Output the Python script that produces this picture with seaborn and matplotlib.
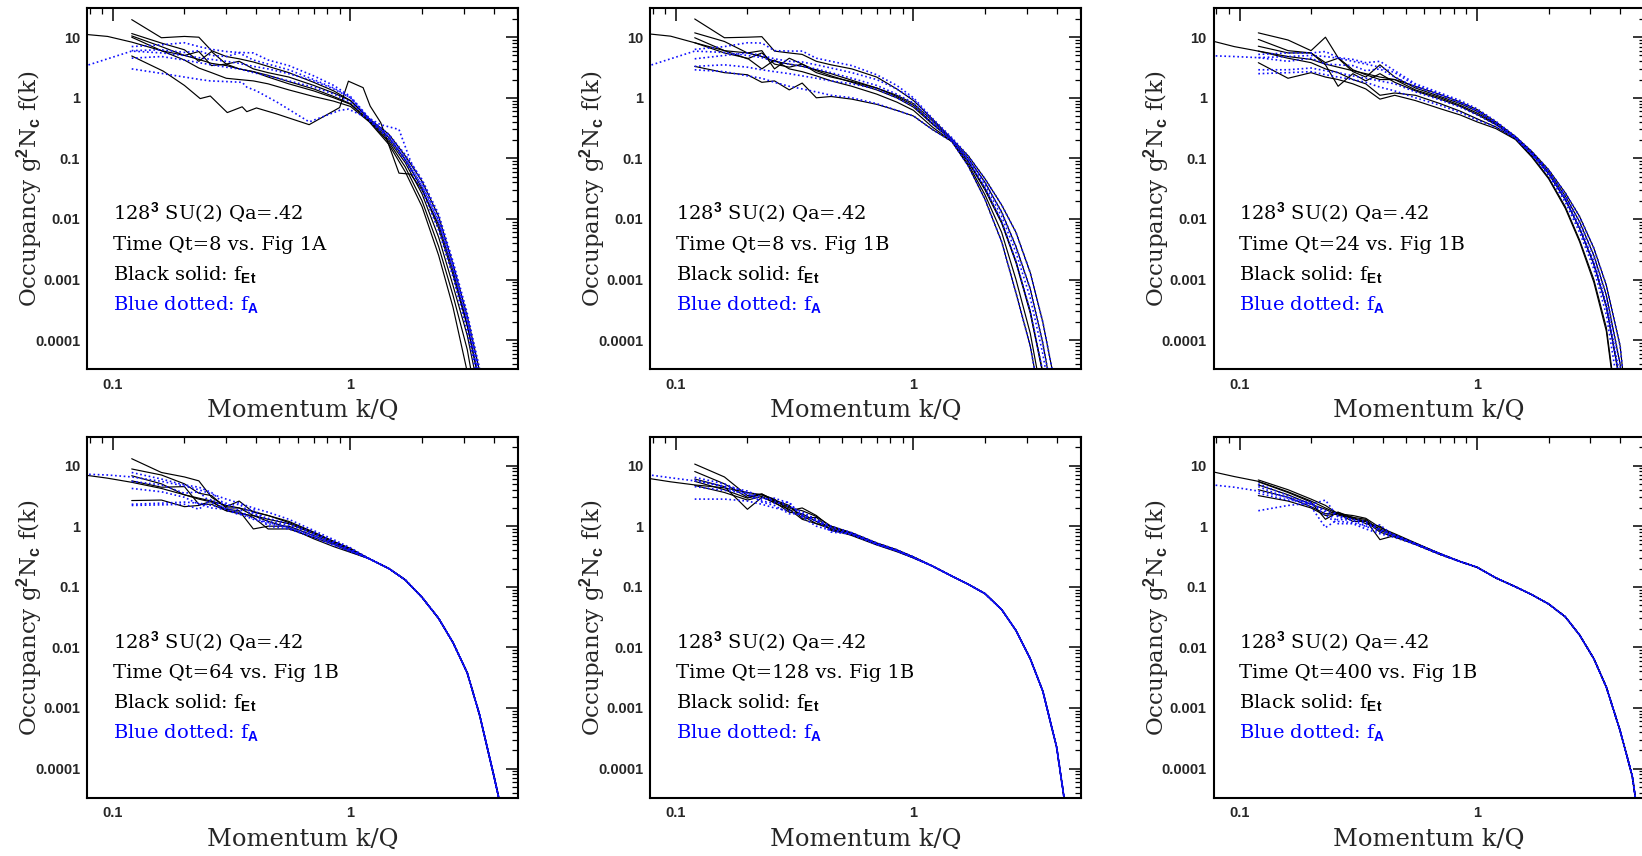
import numpy as np
import pandas as pd
import matplotlib
matplotlib.use("Agg")
import matplotlib.pyplot as plt
import seaborn as sns
from matplotlib.ticker import NullFormatter

N = None

# ---------------- momentum grids ----------------
K_HEAD = [0.07, 0.095, 0.12, 0.16, 0.2, 0.23, 0.26, 0.3, 0.34, 0.39, 0.45, 0.55, 0.7, 0.85, 1.0]
K_TAIL = [1.2, 1.45, 1.7, 2.0, 2.35, 2.7, 3.1, 3.5, 4.0, 4.5, 5.0]

# ---------------- Panel 1 : Qt=8 vs Fig 1A ----------------
P1_BLACK_HEAD = [
    [11.5, 10.3, 8.3, 6.0, 5.0, 4.3, 3.7, 3.4, 3.0, 2.7, 2.35, 1.85, 1.4, 1.05, 0.8],
    [N, N, 19.5, 9.8, 10.3, 10.0, 6.0, 4.8, 4.4, 3.9, 3.3, 2.6, 1.8, 1.3, 0.9],
    [N, N, 11.5, 8.0, 6.2, 4.0, 5.8, 3.6, 4.0, 3.0, 2.6, 2.2, 1.6, 1.2, 0.9],
    [N, N, 10.5, 7.0, 5.0, 5.8, 3.4, 3.6, 3.0, 2.7, 2.2, 1.7, 1.3, 1.0, 0.78],
    [N, N, 10.0, 6.0, 4.2, 3.1, 2.6, 2.1, 2.0, 1.9, 1.7, 1.35, 1.05, 0.88, 0.72],
]
P1_BLACK_TAIL = [
    [0.42, 0.2, 0.085, 0.026, 0.005, 8e-4, 1.2e-4, 1.2e-5, 4e-7, N, N],
    [0.45, 0.25, 0.11, 0.042, 0.011, 0.0018, 2.5e-4, 3e-5, 1e-6, N, N],
    [0.44, 0.22, 0.095, 0.032, 0.007, 0.0012, 1.7e-4, 2e-5, 7e-7, N, N],
    [0.41, 0.185, 0.072, 0.02, 0.0035, 5.5e-4, 7e-5, 5e-6, 1e-7, N, N],
    [0.4, 0.17, 0.06, 0.016, 0.0025, 3.5e-4, 3e-5, 1.5e-6, N, N, N],
]
P1_BLUE_HEAD = [
    [3.0, 4.4, 5.9, 5.5, 5.0, 4.6, 4.3, 4.0, 3.7, 3.3, 3.0, 2.5, 1.9, 1.4, 1.0],
    [N, N, 7.0, 7.5, 8.1, 7.0, 6.3, 5.8, 5.6, 5.5, 4.2, 3.4, 2.3, 1.6, 1.05],
    [N, N, 6.0, 6.2, 5.6, 6.0, 5.0, 4.8, 5.5, 4.2, 3.6, 2.9, 2.0, 1.45, 1.0],
    [N, N, 4.5, 4.8, 4.2, 3.8, 3.5, 3.2, 3.0, 2.6, 2.3, 1.9, 1.5, 1.15, 0.85],
]
P1_BLUE_TAIL = [
    [0.45, 0.23, 0.1, 0.035, 0.009, 0.0016, 2.2e-4, 2.5e-5, 8e-7, N, N],
    [0.46, 0.25, 0.115, 0.045, 0.012, 0.002, 2.8e-4, 3.3e-5, 1.2e-6, N, N],
    [0.44, 0.23, 0.1, 0.036, 0.009, 0.0015, 2e-4, 2e-5, 6e-7, N, N],
    [0.42, 0.21, 0.09, 0.03, 0.0065, 0.0011, 1.4e-4, 1.5e-5, 5e-7, N, N],
]
# the curve with the bump near k/Q ~ 1 (own momentum grid)
K_BUMP = [0.12, 0.163, 0.2, 0.233, 0.257, 0.303, 0.35, 0.366, 0.402, 0.49, 0.67, 0.9,
          0.98, 1.13, 1.21, 1.34, 1.6, 1.79, 2.0, 2.35, 2.7, 3.1, 3.5, 4.0]
P1_BLACK_BUMP = [4.9, 2.75, 1.6, 0.97, 1.07, 0.57, 0.71, 0.59, 0.68, 0.54, 0.36, 0.69,
                 1.88, 1.47, 0.73, 0.39, 0.057, 0.055, 0.03, 0.008, 0.0014, 1.8e-4, 1.8e-5, 5e-7]
P1_BLUE_BUMP = [3.0, 2.5, 2.2, 2.0, 1.9, 1.85, 1.8, 1.5, 1.3, 0.85, 0.4, 0.62,
                0.65, 0.5, 0.45, 0.36, 0.3, 0.09, 0.04, 0.01, 0.0018, 2.3e-4, 2.5e-5, 8e-7]

# ---------------- Panel 2 : Qt=8 vs Fig 1B ----------------
P2_BLACK_HEAD = [
    [11.8, 10.4, 8.1, 6.0, 5.5, 4.8, 4.0, 3.6, 3.3, 2.9, 2.5, 1.95, 1.45, 1.05, 0.75],
    [N, N, 20.0, 9.8, 10.0, 10.2, 5.9, 5.5, 5.2, 4.0, 3.5, 3.0, 2.2, 1.4, 0.9],
    [N, N, 11.8, 8.5, 5.5, 6.0, 3.0, 4.5, 3.6, 2.6, 2.2, 1.85, 1.45, 1.1, 0.8],
    [N, N, 9.8, 6.0, 4.4, 5.5, 3.6, 3.2, 3.6, 2.8, 2.3, 1.8, 1.35, 1.0, 0.7],
    [N, N, 8.1, 5.5, 4.5, 3.0, 4.2, 3.0, 2.7, 2.3, 1.9, 1.55, 1.15, 0.85, 0.62],
    [N, N, 3.3, 2.6, 2.4, 1.8, 1.9, 1.35, 1.75, 1.0, 1.05, 0.95, 0.78, 0.62, 0.5],
]
P2_BLACK_TAIL = [
    [0.38, 0.2, 0.09, 0.032, 0.009, 0.002, 3e-4, 3e-5, 1.2e-6, N, N],
    [0.45, 0.21, 0.11, 0.046, 0.017, 0.006, 0.0013, 2e-4, 1.4e-5, 5e-7, N],
    [0.42, 0.2, 0.1, 0.04, 0.013, 0.0035, 7e-4, 9e-5, 5e-6, N, N],
    [0.37, 0.2, 0.088, 0.03, 0.0085, 0.0019, 2.8e-4, 2.8e-5, 1e-6, N, N],
    [0.33, 0.19, 0.075, 0.021, 0.0042, 6e-4, 8e-5, 6e-6, N, N, N],
    [0.3, 0.19, 0.08, 0.025, 0.006, 0.001, 1.3e-4, 1e-5, 3e-7, N, N],
]
P2_BLUE_HEAD = [
    [3.0, 4.4, 5.9, 5.6, 5.0, 4.6, 4.0, 3.6, 3.3, 3.0, 2.6, 2.1, 1.6, 1.15, 0.82],
    [N, N, 6.3, 7.0, 8.1, 8.0, 6.0, 5.9, 5.9, 4.5, 4.0, 3.4, 2.4, 1.6, 1.0],
    [N, N, 4.4, 5.0, 5.5, 5.0, 4.4, 4.0, 3.9, 3.5, 3.1, 2.6, 2.0, 1.4, 0.95],
    [N, N, 3.3, 3.5, 3.2, 2.9, 2.7, 2.5, 2.3, 2.1, 1.9, 1.7, 1.4, 1.0, 0.72],
    [N, N, 2.9, 2.7, 2.3, 2.1, 1.8, 1.55, 1.4, 1.25, 1.1, 1.0, 0.8, 0.62, 0.5],
]
P2_BLUE_TAIL = [
    [0.4, 0.2, 0.095, 0.036, 0.011, 0.0028, 5e-4, 6e-5, 3e-6, N, N],
    [0.46, 0.22, 0.11, 0.046, 0.017, 0.006, 0.0013, 2e-4, 1.4e-5, 5e-7, N],
    [0.43, 0.21, 0.1, 0.04, 0.013, 0.0035, 7e-4, 9e-5, 5e-6, N, N],
    [0.37, 0.2, 0.09, 0.032, 0.009, 0.002, 3e-4, 3e-5, 1.2e-6, N, N],
    [0.3, 0.19, 0.075, 0.021, 0.0042, 6e-4, 8e-5, 6e-6, N, N, N],
]

# ---------------- Panel 3 : Qt=24 vs Fig 1B ----------------
P3_BLACK_HEAD = [
    [9.5, 7.0, 5.9, 4.8, 4.3, 3.6, 3.2, 2.8, 2.5, 2.2, 2.0, 1.35, 1.0, 0.75, 0.56],
    [N, N, 11.8, 9.0, 6.0, 10.0, 4.6, 2.9, 2.4, 2.0, 2.0, 1.55, 1.13, 0.85, 0.64],
    [N, N, 9.2, 6.0, 5.5, 3.8, 4.5, 2.7, 2.2, 3.5, 2.2, 1.45, 1.05, 0.8, 0.6],
    [N, N, 7.1, 5.5, 5.5, 3.5, 1.55, 2.5, 1.9, 2.5, 1.8, 1.3, 0.95, 0.72, 0.53],
    [N, N, 5.9, 4.5, 3.8, 3.0, 2.6, 2.0, 1.7, 1.1, 1.2, 1.1, 0.8, 0.6, 0.45],
    [N, N, 3.8, 2.1, 2.6, 2.2, 2.0, 1.7, 1.4, 0.95, 1.1, 0.9, 0.66, 0.52, 0.4],
]
P3_BLACK_TAIL = [
    [0.37, 0.22, 0.12, 0.056, 0.021, 0.007, 0.0018, 3.6e-4, 2e-5, 1e-7, N],
    [0.4, 0.23, 0.13, 0.065, 0.027, 0.011, 0.0033, 8e-4, 8e-5, 1e-6, N],
    [0.38, 0.225, 0.125, 0.06, 0.024, 0.009, 0.0025, 5.5e-4, 4e-5, 3e-7, N],
    [0.36, 0.22, 0.12, 0.056, 0.021, 0.007, 0.0018, 3.6e-4, 2e-5, 1e-7, N],
    [0.33, 0.21, 0.11, 0.048, 0.016, 0.0045, 0.001, 1.6e-4, 3e-6, N, N],
    [0.31, 0.205, 0.105, 0.046, 0.015, 0.0042, 9e-4, 1.4e-4, 2.5e-6, N, N],
]
P3_BLUE_HEAD = [
    [5.0, 4.8, 4.6, 4.8, 5.0, 4.8, 4.5, 4.0, 3.6, 3.2, 2.6, 1.6, 1.15, 0.85, 0.62],
    [N, N, 5.2, 5.5, 5.5, 5.8, 4.6, 4.3, 3.8, 4.0, 2.8, 1.7, 1.2, 0.9, 0.66],
    [N, N, 4.6, 4.0, 4.5, 3.6, 3.5, 3.4, 2.8, 3.0, 2.2, 1.5, 1.1, 0.82, 0.6],
    [N, N, 2.9, 2.9, 3.1, 2.8, 2.6, 2.3, 2.1, 1.9, 1.7, 1.25, 0.92, 0.7, 0.52],
    [N, N, 2.5, 2.6, 2.7, 2.4, 2.2, 2.0, 1.8, 1.5, 1.3, 1.0, 0.75, 0.57, 0.43],
]
P3_BLUE_TAIL = [
    [0.39, 0.225, 0.125, 0.06, 0.024, 0.009, 0.0025, 5.5e-4, 4e-5, 3e-7, N],
    [0.41, 0.23, 0.13, 0.065, 0.027, 0.011, 0.0033, 8e-4, 8e-5, 1e-6, N],
    [0.38, 0.22, 0.12, 0.056, 0.021, 0.007, 0.0018, 3.6e-4, 2e-5, 1e-7, N],
    [0.36, 0.22, 0.12, 0.058, 0.022, 0.0075, 0.002, 4e-4, 2.5e-5, 1.5e-7, N],
    [0.33, 0.215, 0.115, 0.052, 0.019, 0.006, 0.0015, 2.6e-4, 1e-5, N, N],
]

# ---------------- Panel 4 : Qt=64 vs Fig 1B ----------------
P4_BLACK_HEAD = [
    [7.3, 6.2, 5.3, 4.2, 3.3, 2.9, 2.6, 2.2, 2.0, 1.75, 1.5, 1.15, 0.78, 0.56, 0.42],
    [N, N, 13.0, 7.7, 6.5, 5.6, 3.0, 2.1, 2.6, 1.7, 1.5, 1.2, 0.8, 0.56, 0.43],
    [N, N, 8.8, 7.0, 5.0, 3.5, 3.2, 2.0, 2.0, 1.5, 1.3, 1.1, 0.75, 0.54, 0.41],
    [N, N, 6.8, 5.0, 3.3, 2.8, 2.5, 1.9, 1.8, 0.9, 1.0, 1.0, 0.7, 0.52, 0.4],
    [N, N, 5.6, 4.4, 4.5, 2.3, 2.3, 1.8, 1.7, 1.4, 0.9, 0.9, 0.65, 0.5, 0.38],
    [N, N, 2.65, 2.7, 2.1, 2.2, 2.6, 1.8, 1.6, 1.5, 1.2, 0.95, 0.62, 0.46, 0.37],
]
P4_BLUE_HEAD = [
    [7.3, 7.0, 6.5, 5.5, 4.6, 4.0, 3.4, 2.8, 2.4, 2.0, 1.7, 1.3, 0.85, 0.6, 0.44],
    [N, N, 7.7, 6.0, 4.8, 4.4, 3.6, 2.2, 2.3, 1.6, 1.35, 1.1, 0.78, 0.56, 0.42],
    [N, N, 5.5, 4.8, 3.5, 3.7, 2.4, 2.4, 1.8, 1.9, 1.2, 1.05, 0.74, 0.54, 0.41],
    [N, N, 4.2, 3.7, 3.0, 2.3, 2.0, 1.9, 1.6, 1.3, 1.1, 0.95, 0.7, 0.52, 0.4],
    [N, N, 2.3, 2.4, 2.5, 2.4, 2.2, 2.0, 1.7, 1.35, 1.15, 0.95, 0.68, 0.5, 0.39],
    [N, N, 2.2, 2.25, 2.3, 1.9, 2.8, 1.85, 1.55, 1.7, 1.0, 0.9, 0.65, 0.48, 0.38],
]
P4_TAIL = [0.29, 0.2, 0.13, 0.067, 0.03, 0.012, 0.0038, 7.5e-4, 8e-5, 1e-5, N]

# ---------------- Panel 5 : Qt=128 vs Fig 1B ----------------
P5_BLACK_HEAD = [
    [6.5, 5.4, 4.8, 4.3, 3.6, 3.3, 2.6, 2.0, 1.8, 1.45, 1.0, 0.76, 0.52, 0.4, 0.31],
    [N, N, 10.6, 6.5, 3.2, 3.4, 2.6, 2.1, 1.5, 1.1, 1.0, 0.78, 0.53, 0.41, 0.31],
    [N, N, 8.0, 5.0, 3.0, 3.3, 2.8, 1.8, 2.0, 1.5, 0.95, 0.76, 0.52, 0.4, 0.31],
    [N, N, 6.0, 4.5, 1.9, 3.0, 2.5, 1.7, 1.6, 1.2, 0.9, 0.74, 0.51, 0.39, 0.3],
    [N, N, 5.5, 4.0, 2.9, 3.4, 2.7, 2.2, 1.35, 1.4, 0.85, 0.72, 0.5, 0.39, 0.3],
    [N, N, 4.7, 3.6, 2.7, 3.1, 2.4, 1.9, 1.3, 1.1, 0.9, 0.7, 0.49, 0.38, 0.3],
]
P5_BLUE_HEAD = [
    [7.4, 6.3, 5.6, 4.6, 3.8, 3.0, 2.6, 2.1, 1.7, 1.3, 1.0, 0.78, 0.53, 0.41, 0.31],
    [N, N, 6.4, 5.0, 3.5, 2.8, 2.9, 2.4, 1.5, 1.25, 0.95, 0.77, 0.52, 0.4, 0.31],
    [N, N, 5.8, 4.4, 3.2, 2.6, 2.4, 2.5, 1.4, 1.0, 0.85, 0.75, 0.51, 0.4, 0.31],
    [N, N, 4.5, 3.9, 3.5, 2.5, 2.2, 1.6, 1.6, 1.3, 0.8, 0.74, 0.5, 0.39, 0.3],
    [N, N, 2.8, 2.8, 2.6, 2.3, 2.0, 1.8, 1.45, 1.2, 0.9, 0.72, 0.5, 0.39, 0.3],
]
P5_TAIL = [0.22, 0.15, 0.11, 0.077, 0.042, 0.019, 0.0065, 0.0019, 2.3e-4, 1e-5, N]

# ---------------- Panel 6 : Qt=400 vs Fig 1B ----------------
P6_BLACK_HEAD = [
    [8.6, 6.6, 5.5, 3.7, 2.6, 2.0, 1.6, 1.35, 1.2, 0.9, 0.72, 0.52, 0.35, 0.26, 0.21],
    [N, N, 5.8, 4.0, 2.8, 2.2, 1.6, 1.5, 1.35, 0.95, 0.75, 0.53, 0.35, 0.26, 0.21],
    [N, N, 5.4, 3.6, 2.5, 1.3, 1.7, 1.4, 1.3, 0.85, 0.7, 0.52, 0.35, 0.26, 0.21],
    [N, N, 4.8, 3.3, 2.3, 1.9, 1.5, 1.4, 1.1, 1.0, 0.68, 0.51, 0.35, 0.26, 0.21],
    [N, N, 4.0, 3.0, 2.1, 1.6, 1.7, 1.3, 1.25, 0.6, 0.7, 0.5, 0.34, 0.26, 0.21],
    [N, N, 3.2, 2.6, 2.0, 1.5, 1.6, 1.2, 1.2, 0.8, 0.66, 0.5, 0.34, 0.26, 0.21],
]
P6_BLUE_HEAD = [
    [5.0, 4.4, 3.8, 3.0, 2.3, 1.8, 1.5, 1.3, 1.1, 0.9, 0.7, 0.51, 0.35, 0.26, 0.21],
    [N, N, 5.0, 3.2, 2.3, 2.7, 1.4, 1.3, 1.2, 0.85, 0.72, 0.52, 0.35, 0.26, 0.21],
    [N, N, 4.5, 2.9, 2.1, 0.95, 1.3, 1.25, 1.0, 1.05, 0.68, 0.51, 0.35, 0.26, 0.21],
    [N, N, 3.5, 2.7, 2.5, 1.7, 1.2, 1.15, 1.0, 0.8, 0.7, 0.5, 0.34, 0.26, 0.21],
    [N, N, 1.8, 2.2, 2.4, 1.5, 1.1, 1.1, 0.9, 0.75, 0.65, 0.5, 0.34, 0.26, 0.21],
]
P6_TAIL = [0.14, 0.1, 0.074, 0.052, 0.032, 0.016, 0.0065, 0.0022, 4.2e-4, 7.5e-5, 4e-6]

TIMES = ["Time Qt=8 vs. Fig 1A", "Time Qt=8 vs. Fig 1B", "Time Qt=24 vs. Fig 1B",
         "Time Qt=64 vs. Fig 1B", "Time Qt=128 vs. Fig 1B", "Time Qt=400 vs. Fig 1B"]

Y_TICKS = [1e-4, 1e-3, 1e-2, 0.1, 1, 10]
Y_TICK_LABELS = ["0.0001", "0.001", "0.01", "0.1", "1", "10"]
X_TICKS = [0.1, 1]
X_TICK_LABELS = ["0.1", "1"]


def join(heads, tails):
    return [list(zip(K_HEAD + K_TAIL, h + t)) for h, t in zip(heads, tails)]


PANELS = [
    dict(black=join(P1_BLACK_HEAD, P1_BLACK_TAIL) + [list(zip(K_BUMP, P1_BLACK_BUMP))],
         blue=join(P1_BLUE_HEAD, P1_BLUE_TAIL) + [list(zip(K_BUMP, P1_BLUE_BUMP))]),
    dict(black=join(P2_BLACK_HEAD, P2_BLACK_TAIL), blue=join(P2_BLUE_HEAD, P2_BLUE_TAIL)),
    dict(black=join(P3_BLACK_HEAD, P3_BLACK_TAIL), blue=join(P3_BLUE_HEAD, P3_BLUE_TAIL)),
    dict(black=join(P4_BLACK_HEAD, [P4_TAIL] * len(P4_BLACK_HEAD)),
         blue=join(P4_BLUE_HEAD, [P4_TAIL] * len(P4_BLUE_HEAD))),
    dict(black=join(P5_BLACK_HEAD, [P5_TAIL] * len(P5_BLACK_HEAD)),
         blue=join(P5_BLUE_HEAD, [P5_TAIL] * len(P5_BLUE_HEAD))),
    dict(black=join(P6_BLACK_HEAD, [P6_TAIL] * len(P6_BLACK_HEAD)),
         blue=join(P6_BLUE_HEAD, [P6_TAIL] * len(P6_BLUE_HEAD))),
]


def to_frame(curves):
    rows = []
    for cid, pts in enumerate(curves):
        for k, f in pts:
            if f is not None:
                rows.append({"k": k, "f": f, "curve": cid})
    return pd.DataFrame(rows)


sns.set_style("white")
plt.rcParams["font.family"] = ["DejaVu Serif"]
plt.rcParams["mathtext.fontset"] = "custom"
plt.rcParams["mathtext.rm"] = "DejaVu Serif"
plt.rcParams["mathtext.it"] = "DejaVu Serif:italic"
plt.rcParams["mathtext.bf"] = "Liberation Sans:bold"

W, H = 1642, 856
fig = plt.figure(figsize=(W / 100, H / 100), dpi=100)
fig.patch.set_facecolor("white")

LEFTS = [87, 650, 1213.6]
TOPS = [8.3, 436.7]
AW, AH = 431, 361
BLUE = "#1010ff"

x_minor = [m * 10.0 ** e for e in (-2, -1, 0) for m in range(2, 10)]
x_minor = [v for v in x_minor if 0.0778 < v < 5.07]
y_minor = [m * 10.0 ** e for e in range(-5, 2) for m in range(2, 10)]
y_minor = [v for v in y_minor if 3.3e-5 < v < 30]

tick_font = dict(fontfamily="Liberation Sans", fontweight="bold", fontsize=10.5)

for i, panel in enumerate(PANELS):
    r, c = divmod(i, 3)
    ax = fig.add_axes([LEFTS[c] / W, 1 - (TOPS[r] + AH) / H, AW / W, AH / H])
    ax.set_xscale("log")
    ax.set_yscale("log")

    sns.lineplot(data=to_frame(panel["black"]), x="k", y="f", units="curve",
                 estimator=None, sort=False, color="black", linewidth=0.85,
                 ax=ax, legend=False)
    sns.lineplot(data=to_frame(panel["blue"]), x="k", y="f", units="curve",
                 estimator=None, sort=False, color=BLUE, linewidth=1.2,
                 linestyle=(0, (1, 1.6)), ax=ax, legend=False)

    ax.set_xlim(0.0778, 5.07)
    ax.set_ylim(3.3e-5, 30)

    ax.set_xticks(X_TICKS, X_TICK_LABELS, **tick_font)
    ax.set_yticks(Y_TICKS, Y_TICK_LABELS, **tick_font)
    ax.set_xticks(x_minor, minor=True)
    ax.set_yticks(y_minor, minor=True)
    ax.xaxis.set_minor_formatter(NullFormatter())
    ax.yaxis.set_minor_formatter(NullFormatter())
    ax.tick_params(which="both", direction="in", top=True, right=True, color="black")
    ax.tick_params(which="major", length=9, width=1.1)
    ax.tick_params(which="minor", length=4.5, width=0.9)
    ax.tick_params(axis="y", which="major", pad=5)
    ax.tick_params(axis="x", which="major", pad=6)
    for s in ax.spines.values():
        s.set_linewidth(1.5)
        s.set_color("black")

    ax.set_xlabel("Momentum k/Q", fontsize=17.5)
    ax.set_ylabel(r"Occupancy g$^{\mathbf{2}}$N$_{\mathbf{c}}$ f(k)", fontsize=16.5)
    ax.xaxis.set_label_coords(0.5, -0.083)
    ax.yaxis.set_label_coords(-0.1, 0.5)

    tx = 0.06
    ax.text(tx, 0.4155, r"128$^{\mathbf{3}}$ SU(2) Qa=.42", transform=ax.transAxes,
            fontsize=14, va="baseline", ha="left", color="black")
    ax.text(tx, 0.3305, TIMES[i], transform=ax.transAxes,
            fontsize=14, va="baseline", ha="left", color="black")
    ax.text(tx, 0.2474, r"Black solid: f$_{\mathbf{Et}}$", transform=ax.transAxes,
            fontsize=14, va="baseline", ha="left", color="black")
    ax.text(tx, 0.1643, r"Blue dotted: f$_{\mathbf{A}}$", transform=ax.transAxes,
            fontsize=14, va="baseline", ha="left", color="#0000ff")

fig.savefig("out.png", dpi=100, facecolor="white")
